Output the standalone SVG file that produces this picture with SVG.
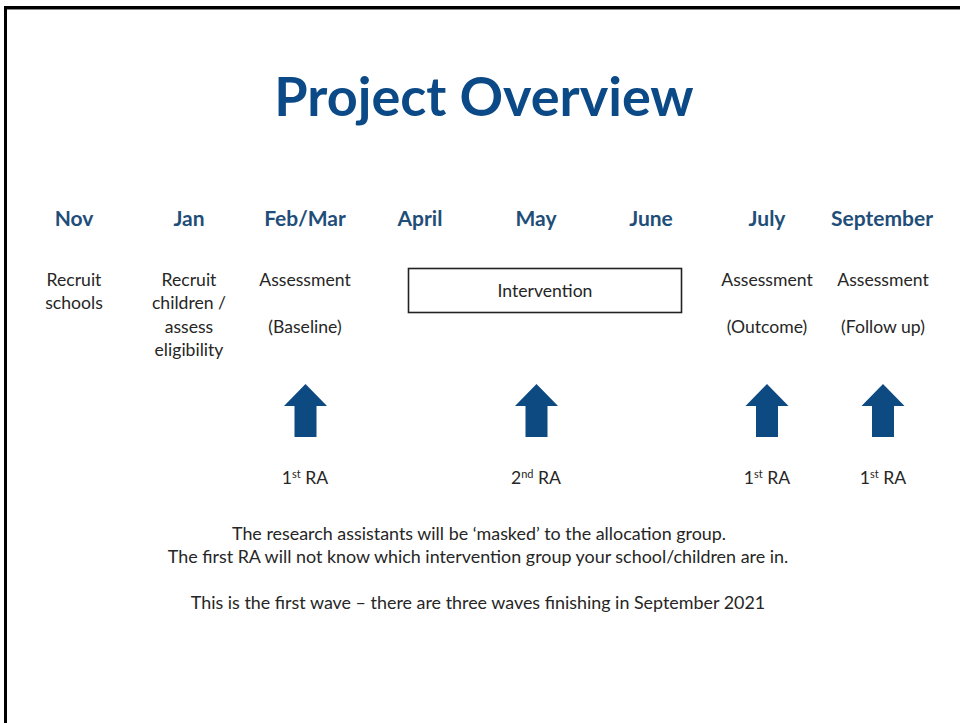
<svg xmlns="http://www.w3.org/2000/svg" width="960" height="723" viewBox="0 0 960 723">
  <style>
    .title { font-family: Lato, "Open Sans", sans-serif; font-weight: 700; font-size: 54px; fill: #0B4A86; text-anchor: middle; }
    .month { font-family: Lato, "Open Sans", sans-serif; font-weight: 700; font-size: 21px; fill: #1F4E79; text-anchor: middle; }
    .body { font-family: Lato, "Open Sans", sans-serif; font-size: 17.6px; fill: #262626; text-anchor: middle; }
    .note { font-size: 17.9px; }
    .sup { font-size: 11px; }
    .arrow { fill: #0D4A82; }
    .box { fill: #fff; stroke: #222; stroke-width: 1.6; }
  </style>
  <defs>
    <!-- block up-arrow, origin at tip -->
    <path id="up" d="M0 0 L21.5 22 L11 22 L11 53 L-11 53 L-11 22 L-21.5 22 Z"/>
  </defs>

  <rect x="0" y="0" width="960" height="723" fill="#fff"/>
  <!-- slide frame -->
  <rect x="5.5" y="7.5" width="1000" height="800" fill="none" stroke="#000" stroke-width="3"/>
  <line x1="7" y1="9.5" x2="960" y2="9.5" stroke="#888" stroke-width="1"/>

  <text class="title" x="484" y="116">Project Overview</text>

  <g id="months">
    <text class="month" x="74" y="226">Nov</text>
    <text class="month" x="189" y="226">Jan</text>
    <text class="month" x="305" y="226">Feb/Mar</text>
    <text class="month" x="420" y="226">April</text>
    <text class="month" x="536" y="226">May</text>
    <text class="month" x="651" y="226">June</text>
    <text class="month" x="767" y="226">July</text>
    <text class="month" x="882" y="226">September</text>
  </g>

  <g id="recruit-schools">
    <text class="body" x="74" y="286">Recruit</text>
    <text class="body" x="74" y="309">schools</text>
  </g>
  <g id="recruit-children">
    <text class="body" x="189" y="286">Recruit</text>
    <text class="body" x="189" y="309">children /</text>
    <text class="body" x="189" y="333">assess</text>
    <text class="body" x="189" y="356">eligibility</text>
  </g>
  <g id="assessment-baseline">
    <text class="body" x="305" y="286">Assessment</text>
    <text class="body" x="305" y="333">(Baseline)</text>
  </g>
  <g id="intervention">
    <rect class="box" x="408.5" y="268.5" width="273" height="44"/>
    <text class="body" x="545" y="297">Intervention</text>
  </g>
  <g id="assessment-outcome">
    <text class="body" x="767" y="286">Assessment</text>
    <text class="body" x="767" y="333">(Outcome)</text>
  </g>
  <g id="assessment-followup">
    <text class="body" x="883" y="286">Assessment</text>
    <text class="body" x="883" y="333">(Follow up)</text>
  </g>

  <g id="connectors">
    <use href="#up" class="arrow" x="305.5" y="384"/>
    <use href="#up" class="arrow" x="536.5" y="384"/>
    <use href="#up" class="arrow" x="767" y="384"/>
    <use href="#up" class="arrow" x="883" y="384"/>
  </g>

  <g id="ra-labels">
    <text class="body" x="305" y="484">1<tspan class="sup" dy="-6">st</tspan><tspan dy="6"> RA</tspan></text>
    <text class="body" x="536" y="484">2<tspan class="sup" dy="-6">nd</tspan><tspan dy="6"> RA</tspan></text>
    <text class="body" x="767" y="484">1<tspan class="sup" dy="-6">st</tspan><tspan dy="6"> RA</tspan></text>
    <text class="body" x="883" y="484">1<tspan class="sup" dy="-6">st</tspan><tspan dy="6"> RA</tspan></text>
  </g>

  <g id="notes">
    <text class="body note" x="479" y="540">The research assistants will be ‘masked’ to the allocation group.</text>
    <text class="body note" x="478" y="563">The first RA will not know which intervention group your school/children are in.</text>
    <text class="body note" x="478" y="609">This is the first wave – there are three waves finishing in September 2021</text>
  </g>
</svg>
